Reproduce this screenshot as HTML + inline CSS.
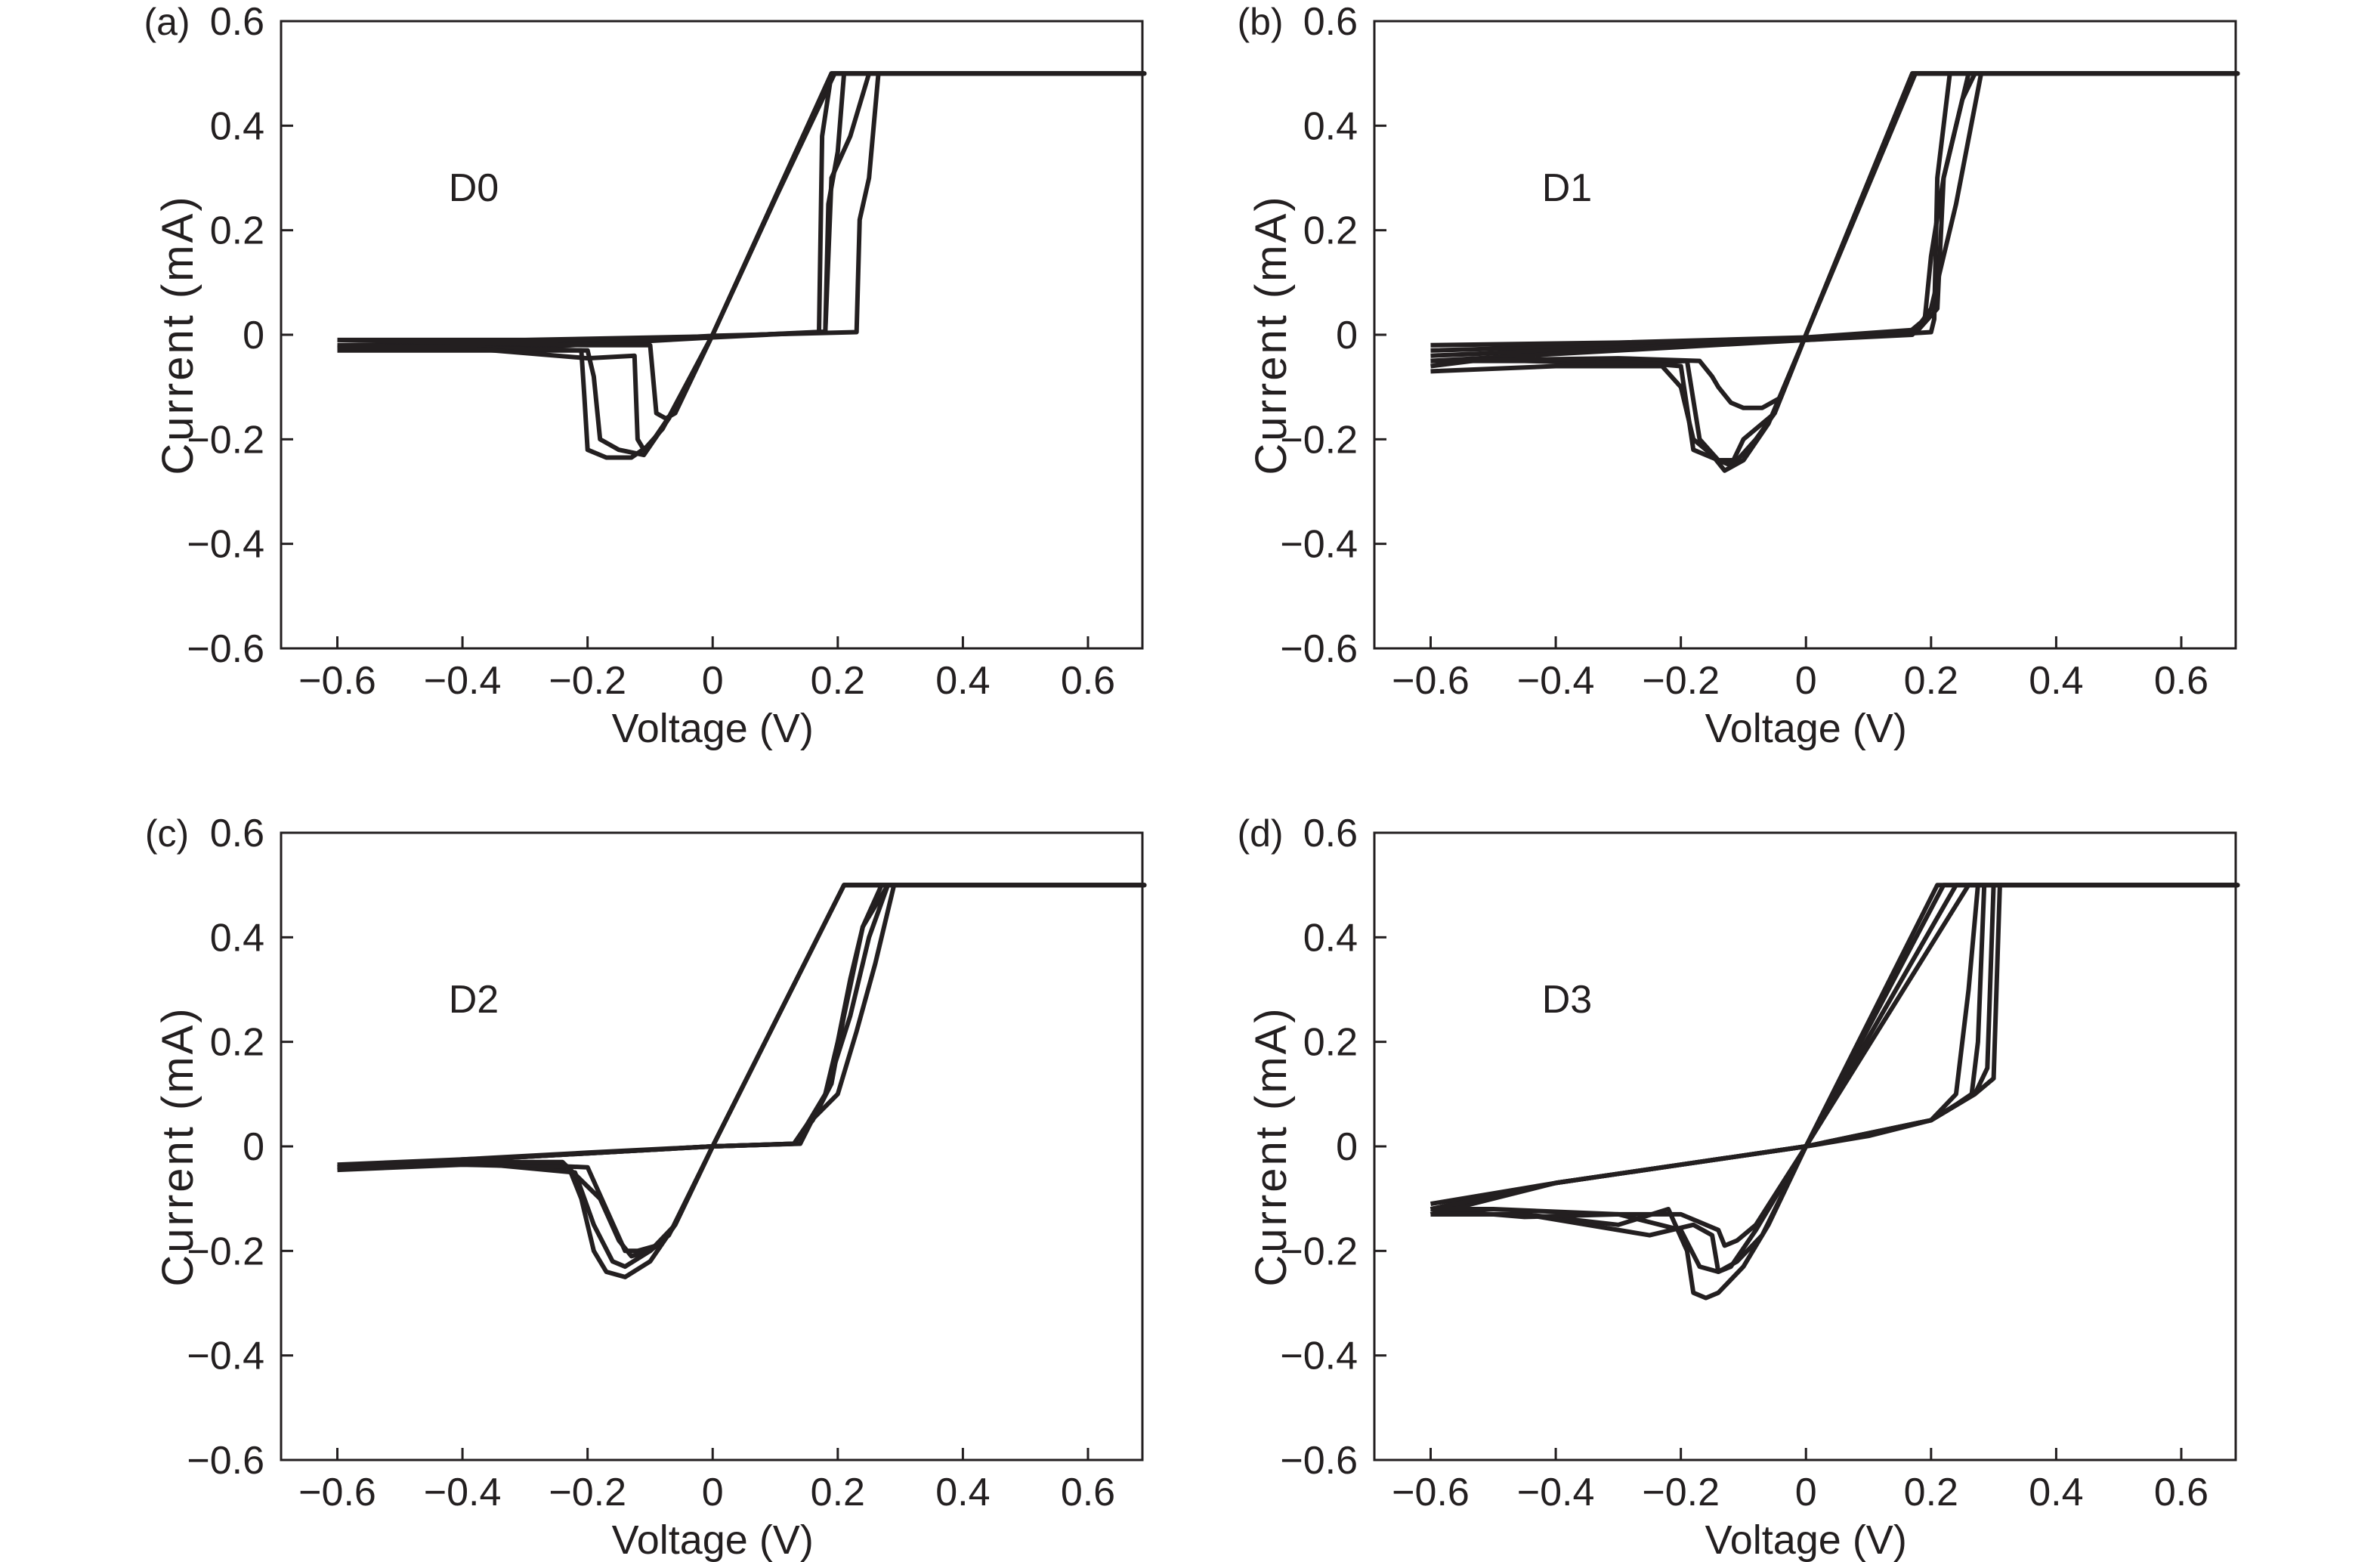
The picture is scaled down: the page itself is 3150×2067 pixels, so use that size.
<!DOCTYPE html>
<html><head><meta charset="utf-8"><style>
html,body{margin:0;padding:0;background:#fff;}
svg{display:block;}
text{font-family:"Liberation Sans",sans-serif;fill:#231f20;}
</style></head>
<body>
<svg id="fig" width="3150" height="2067" viewBox="0 0 3150 2067" xmlns="http://www.w3.org/2000/svg"></svg>
<script>
const xTicks=[-0.6,-0.4,-0.2,0,0.2,0.4,0.6];
const xTickLabels=["\u22120.6","\u22120.4","\u22120.2","0","0.2","0.4","0.6"];
const yTicks=[-0.6,-0.4,-0.2,0,0.2,0.4,0.6];
const yTickLabels=["\u22120.6","\u22120.4","\u22120.2","0","0.2","0.4","0.6"];
const panelLetters=["(a)","(b)","(c)","(d)"];
const deviceNames=["D0","D1","D2","D3"];

const d0c1V=[-0.6,-0.45,-0.3,-0.15,0,0.17,0.175,0.19,0.69,0.19,0.1,0,-0.06,-0.1,-0.13,-0.17,-0.2,-0.205,-0.21,-0.3,-0.45,-0.6];
const d0c1I=[-0.03,-0.028,-0.025,-0.015,-0.005,0.005,0.38,0.5,0.5,0.5,0.26,0,-0.14,-0.21,-0.235,-0.235,-0.22,-0.12,-0.03,-0.03,-0.03,-0.03];
const d0c2V=[-0.6,-0.4,-0.2,0,0.18,0.185,0.2,0.21,0.69,0.195,0.1,0,-0.07,-0.11,-0.15,-0.18,-0.19,-0.2,-0.4,-0.6];
const d0c2I=[-0.02,-0.02,-0.015,-0.004,0.006,0.25,0.35,0.5,0.5,0.5,0.26,0,-0.16,-0.23,-0.22,-0.2,-0.08,-0.03,-0.025,-0.02];
const d0c3V=[-0.6,-0.4,-0.2,0,0.23,0.235,0.25,0.265,0.69,0.19,0,-0.08,-0.11,-0.12,-0.125,-0.2,-0.4,-0.6];
const d0c3I=[-0.025,-0.02,-0.015,-0.002,0.005,0.22,0.3,0.5,0.5,0.5,0,-0.18,-0.22,-0.2,-0.04,-0.045,-0.025,-0.025];
const d0c4V=[-0.6,-0.3,0,0.18,0.19,0.22,0.25,0.69,0.19,0,-0.06,-0.075,-0.09,-0.1,-0.2,-0.6];
const d0c4I=[-0.01,-0.01,-0.003,0.005,0.3,0.38,0.5,0.5,0.5,0,-0.15,-0.16,-0.15,-0.02,-0.02,-0.01];

const d1c1V=[-0.6,-0.3,0,0.16,0.19,0.2,0.22,0.25,0.27,0.69,0.17,0,-0.06,-0.1,-0.13,-0.15,-0.18,-0.2,-0.23,-0.4,-0.6];
const d1c1I=[-0.03,-0.02,-0.008,0.0,0.03,0.15,0.3,0.45,0.5,0.5,0.5,0,-0.17,-0.24,-0.26,-0.23,-0.2,-0.1,-0.06,-0.06,-0.07];
const d1c2V=[-0.6,-0.3,0,0.2,0.205,0.21,0.23,0.69,0.175,0,-0.05,-0.1,-0.12,-0.14,-0.17,-0.19,-0.3,-0.45,-0.6];
const d1c2I=[-0.04,-0.025,-0.01,0.005,0.03,0.3,0.5,0.5,0.5,0,-0.15,-0.2,-0.25,-0.24,-0.2,-0.05,-0.055,-0.05,-0.05];
const d1c3V=[-0.6,-0.3,0,0.17,0.2,0.24,0.28,0.69,0.17,0,-0.05,-0.08,-0.11,-0.14,-0.18,-0.2,-0.3,-0.5,-0.6];
const d1c3I=[-0.05,-0.03,-0.01,0.0,0.05,0.25,0.5,0.5,0.5,0,-0.15,-0.2,-0.24,-0.24,-0.22,-0.06,-0.05,-0.045,-0.06];
const d1c4V=[-0.6,-0.3,0,0.18,0.21,0.22,0.26,0.69,0.17,0,-0.04,-0.07,-0.1,-0.12,-0.14,-0.15,-0.17,-0.3,-0.6];
const d1c4I=[-0.02,-0.015,-0.005,0.01,0.05,0.3,0.5,0.5,0.5,0,-0.12,-0.14,-0.14,-0.13,-0.1,-0.08,-0.05,-0.045,-0.05];

const d2c1V=[-0.6,-0.4,-0.2,0,0.13,0.15,0.18,0.2,0.22,0.24,0.28,0.69,0.21,0,-0.06,-0.1,-0.14,-0.17,-0.19,-0.21,-0.23,-0.4,-0.6];
const d2c1I=[-0.045,-0.025,-0.012,0.0,0.005,0.04,0.1,0.2,0.32,0.42,0.5,0.5,0.5,0,-0.15,-0.22,-0.25,-0.24,-0.2,-0.1,-0.04,-0.035,-0.045];
const d2c2V=[-0.6,-0.3,0,0.13,0.16,0.19,0.21,0.24,0.27,0.69,0.21,0,-0.07,-0.1,-0.14,-0.16,-0.19,-0.22,-0.4,-0.6];
const d2c2I=[-0.04,-0.02,0,0.005,0.05,0.12,0.25,0.42,0.5,0.5,0.5,0,-0.17,-0.2,-0.23,-0.22,-0.15,-0.05,-0.03,-0.04];
const d2c3V=[-0.6,-0.3,0,0.13,0.15,0.2,0.23,0.26,0.29,0.69,0.21,0,-0.06,-0.09,-0.12,-0.14,-0.17,-0.2,-0.4,-0.6];
const d2c3I=[-0.035,-0.02,0,0.005,0.04,0.1,0.22,0.35,0.5,0.5,0.5,0,-0.15,-0.19,-0.2,-0.2,-0.12,-0.04,-0.03,-0.035];
const d2c4V=[-0.6,-0.3,0,0.14,0.18,0.22,0.25,0.28,0.69,0.21,0,-0.06,-0.1,-0.13,-0.15,-0.18,-0.24,-0.4,-0.6];
const d2c4I=[-0.04,-0.02,0,0.005,0.1,0.25,0.4,0.5,0.5,0.5,0,-0.15,-0.2,-0.21,-0.18,-0.1,-0.03,-0.03,-0.04];

const d3c1V=[-0.6,-0.4,-0.2,0,0.1,0.2,0.24,0.265,0.275,0.285,0.69,0.21,0,-0.06,-0.1,-0.14,-0.16,-0.18,-0.19,-0.22,-0.3,-0.45,-0.6];
const d3c1I=[-0.12,-0.07,-0.035,0,0.02,0.05,0.08,0.1,0.2,0.5,0.5,0.5,0,-0.15,-0.23,-0.28,-0.29,-0.28,-0.2,-0.12,-0.15,-0.13,-0.13];
const d3c2V=[-0.6,-0.4,-0.2,0,0.2,0.24,0.26,0.275,0.69,0.22,0,-0.07,-0.11,-0.14,-0.17,-0.2,-0.3,-0.45,-0.6];
const d3c2I=[-0.11,-0.07,-0.035,0,0.05,0.1,0.3,0.5,0.5,0.5,0,-0.17,-0.22,-0.24,-0.23,-0.16,-0.13,-0.135,-0.12];
const d3c3V=[-0.6,-0.4,-0.2,0,0.2,0.27,0.29,0.3,0.69,0.24,0,-0.08,-0.12,-0.14,-0.15,-0.18,-0.25,-0.45,-0.6];
const d3c3I=[-0.13,-0.07,-0.035,0,0.05,0.1,0.15,0.5,0.5,0.5,0,-0.16,-0.23,-0.24,-0.17,-0.15,-0.17,-0.13,-0.13];
const d3c4V=[-0.6,-0.4,-0.2,0,0.2,0.27,0.3,0.31,0.69,0.26,0,-0.08,-0.11,-0.13,-0.14,-0.2,-0.3,-0.5,-0.6];
const d3c4I=[-0.12,-0.07,-0.035,0,0.05,0.1,0.13,0.5,0.5,0.5,0,-0.15,-0.18,-0.19,-0.16,-0.13,-0.13,-0.12,-0.12];

const panelCycles=[
 [[d0c1V,d0c1I],[d0c2V,d0c2I],[d0c3V,d0c3I],[d0c4V,d0c4I]],
 [[d1c1V,d1c1I],[d1c2V,d1c2I],[d1c3V,d1c3I],[d1c4V,d1c4I]],
 [[d2c1V,d2c1I],[d2c2V,d2c2I],[d2c3V,d2c3I],[d2c4V,d2c4I]],
 [[d3c1V,d3c1I],[d3c2V,d3c2I],[d3c3V,d3c3I],[d3c4V,d3c4I]]
];

const NS="http://www.w3.org/2000/svg";
const svg=document.getElementById('fig');
const XMIN=-0.69,XMAX=0.687,YMIN=-0.6,YMAX=0.6;
const boxes=[{l:372,t:28},{l:1819,t:28},{l:372,t:1102},{l:1819,t:1102}];
const W=1140,H=830;
function mk(tag,attrs,parent){const e=document.createElementNS(NS,tag);for(const k in attrs)e.setAttribute(k,attrs[k]);(parent||svg).appendChild(e);return e;}

boxes.forEach((b,p)=>{
  const xs=v=>b.l+(v-XMIN)/(XMAX-XMIN)*W;
  const ys=v=>b.t+(YMAX-v)/(YMAX-YMIN)*H;
  const g=mk('g',{});
  
  
  const frame=mk('rect',{x:b.l,y:b.t,width:W,height:H,fill:'none',stroke:'#231f20','stroke-width':3},g);
  
  
  xTicks.forEach((v,i)=>{
    const tk=mk('line',{x1:xs(v),x2:xs(v),y1:b.t+H,y2:b.t+H-16,stroke:'#231f20','stroke-width':3},g);
    
    
    const t=mk('text',{x:xs(v),y:b.t+H+60,'text-anchor':'middle','font-size':52},g);
    t.textContent=xTickLabels[i];
    
    
  });
  yTicks.forEach((v,i)=>{
    const tk=mk('line',{x1:b.l,x2:b.l+16,y1:ys(v),y2:ys(v),stroke:'#231f20','stroke-width':3},g);
    
    
    const t=mk('text',{x:b.l-22,y:ys(v)+18,'text-anchor':'end','font-size':52},g);
    t.textContent=yTickLabels[i];
    
    
  });
  const xt=mk('text',{x:xs(0),y:b.t+H+124,'text-anchor':'middle','font-size':54},g);
  xt.textContent='Voltage (V)';
  
  
  const cy=b.t+H/2;
  const cx=b.l-137;
  const yt=mk('text',{x:cx,y:cy+20,'text-anchor':'middle','font-size':58,'letter-spacing':3,transform:'rotate(-90 '+cx+' '+cy+')'},g);
  yt.textContent='Current (mA)';
  
  
  const pl=mk('text',{x:b.l-151,y:b.t+18,'text-anchor':'middle','font-size':50},g);
  pl.textContent=panelLetters[p];
  
  
  const dn=mk('text',{x:b.l+255,y:b.t+238,'text-anchor':'middle','font-size':52},g);
  dn.textContent=deviceNames[p];
  
  
  panelCycles[p].forEach((c,ci)=>{
    const [V,I]=c;
    let d='';
    V.forEach((v,k)=>{d+=(k?'L':'M')+xs(v).toFixed(1)+' '+ys(I[k]).toFixed(1);});
    const path=mk('path',{d:d,fill:'none',stroke:'#231f20','stroke-width':6,'stroke-linejoin':'round'},g);
    
    
  });
});
</script>
</body></html>
